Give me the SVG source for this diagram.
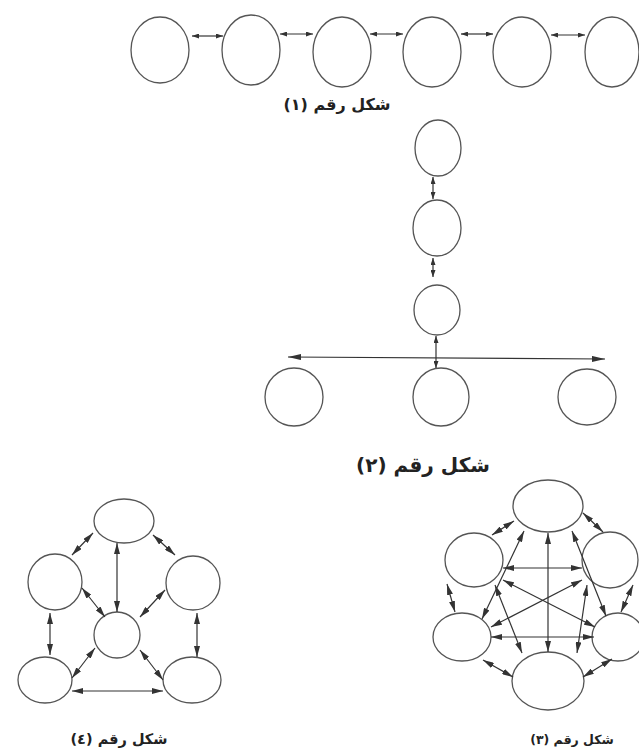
<svg xmlns="http://www.w3.org/2000/svg" width="639" height="751" viewBox="0 0 639 751">
<style>
.n{fill:none;stroke:#555;stroke-width:1.3}
.e{stroke:#333;stroke-width:1.2;fill:none}
.s{marker-start:url(#hs);marker-end:url(#hs)}
.m{marker-start:url(#hm);marker-end:url(#hm)}
.l{marker-start:url(#hl);marker-end:url(#hl)}
.t{font-family:"DejaVu Sans",sans-serif;font-weight:bold;fill:#222;text-anchor:middle}
</style>
<defs>
<marker id="hs" markerUnits="userSpaceOnUse" markerWidth="7" markerHeight="5" refX="7" refY="2.5" orient="auto-start-reverse"><path d="M0,0 L7,2.5 L0,5 z" fill="#333"/></marker>
<marker id="hm" markerUnits="userSpaceOnUse" markerWidth="11" markerHeight="6" refX="11" refY="3" orient="auto-start-reverse"><path d="M0,0 L11,3 L0,6 z" fill="#333"/></marker>
<marker id="hl" markerUnits="userSpaceOnUse" markerWidth="13" markerHeight="6" refX="13" refY="3" orient="auto-start-reverse"><path d="M0,0 L13,3 L0,6 z" fill="#333"/></marker>
</defs>
<rect width="639" height="751" fill="#fff"/>

<g id="fig1">
<g id="f1n1"><ellipse class="n" cx="160" cy="50" rx="29" ry="33"/></g>
<g id="f1n2"><ellipse class="n" cx="251" cy="50" rx="29" ry="35"/></g>
<g id="f1n3"><ellipse class="n" cx="342" cy="52" rx="29" ry="35"/></g>
<g id="f1n4"><ellipse class="n" cx="432" cy="52" rx="29" ry="35"/></g>
<g id="f1n5"><ellipse class="n" cx="522" cy="52" rx="29" ry="35"/></g>
<g id="f1n6"><ellipse class="n" cx="612" cy="52" rx="27" ry="35"/></g>
<g id="f1edges">
<line class="e s" x1="192" y1="36" x2="223" y2="36"/>
<line class="e s" x1="280" y1="34" x2="313" y2="34"/>
<line class="e s" x1="370" y1="34" x2="403" y2="34"/>
<line class="e s" x1="461" y1="34" x2="493" y2="34"/>
<line class="e s" x1="551" y1="35" x2="585" y2="35"/>
</g>
<text class="t" x="337" y="110" font-size="16" direction="rtl">شكل رقم (١)</text>
</g>

<g id="fig2">
<g id="f2n1"><ellipse class="n" cx="438" cy="148" rx="23" ry="28"/></g>
<g id="f2n2"><ellipse class="n" cx="437" cy="228" rx="24" ry="28"/></g>
<g id="f2n3"><ellipse class="n" cx="437" cy="310" rx="23" ry="25"/></g>
<g id="f2n4"><ellipse class="n" cx="294" cy="397" rx="29" ry="29"/></g>
<g id="f2n5"><ellipse class="n" cx="441" cy="397" rx="28" ry="29"/></g>
<g id="f2n6"><ellipse class="n" cx="587" cy="397" rx="29" ry="28"/></g>
<g id="f2edges">
<line class="e s" x1="433" y1="177" x2="433" y2="199"/>
<line class="e s" x1="433" y1="258" x2="433" y2="277"/>
<line class="e s" x1="436" y1="336" x2="436" y2="368"/>
<line class="e l" x1="288" y1="357" x2="605" y2="359"/>
</g>
<text class="t" x="423" y="472" font-size="20" direction="rtl">شكل رقم (٢)</text>
</g>

<g id="fig3">
<g id="f3T"><ellipse class="n" cx="548" cy="506" rx="35" ry="26"/></g>
<g id="f3UL"><ellipse class="n" cx="474" cy="560" rx="29" ry="27"/></g>
<g id="f3UR"><ellipse class="n" cx="610" cy="560" rx="28" ry="28"/></g>
<g id="f3LL"><ellipse class="n" cx="462" cy="637" rx="29" ry="24"/></g>
<g id="f3LR"><ellipse class="n" cx="618" cy="637" rx="26" ry="24"/></g>
<g id="f3B"><ellipse class="n" cx="548" cy="681" rx="36" ry="29"/></g>
<g id="f3edges">
<line class="e m" x1="514" y1="521" x2="492" y2="535"/>
<line class="e m" x1="583" y1="513" x2="603" y2="532"/>
<line class="e m" x1="447" y1="584" x2="455" y2="612"/>
<line class="e m" x1="633" y1="585" x2="621" y2="612"/>
<line class="e m" x1="483" y1="660" x2="513" y2="677"/>
<line class="e m" x1="612" y1="659" x2="583" y2="677"/>
<line class="e m" x1="548" y1="533" x2="548" y2="652"/>
<line class="e m" x1="503" y1="568" x2="582" y2="568"/>
<line class="e m" x1="491" y1="637" x2="594" y2="637"/>
<line class="e m" x1="503" y1="580" x2="595" y2="627"/>
<line class="e m" x1="491" y1="627" x2="582" y2="580"/>
<line class="e m" x1="524" y1="531" x2="482" y2="619"/>
<line class="e m" x1="572" y1="531" x2="606" y2="616"/>
<line class="e m" x1="495" y1="585" x2="522" y2="653"/>
<line class="e m" x1="587" y1="585" x2="577" y2="653"/>
</g>
<text class="t" x="572" y="744" font-size="12.5" direction="rtl">شكل رقم (٣)</text>
</g>

<g id="fig4">
<g id="f4T"><ellipse class="n" cx="124" cy="521" rx="30" ry="22"/></g>
<g id="f4UL"><ellipse class="n" cx="55" cy="582" rx="27" ry="28"/></g>
<g id="f4UR"><ellipse class="n" cx="193" cy="583" rx="27" ry="27"/></g>
<g id="f4C"><ellipse class="n" cx="117" cy="635" rx="23" ry="23"/></g>
<g id="f4LL"><ellipse class="n" cx="45" cy="680" rx="27" ry="23"/></g>
<g id="f4LR"><ellipse class="n" cx="192" cy="680" rx="29" ry="23"/></g>
<g id="f4edges">
<line class="e m" x1="93" y1="533" x2="72" y2="555"/>
<line class="e m" x1="153" y1="535" x2="175" y2="555"/>
<line class="e m" x1="117" y1="543" x2="117" y2="612"/>
<line class="e m" x1="82" y1="588" x2="105" y2="617"/>
<line class="e m" x1="165" y1="590" x2="140" y2="617"/>
<line class="e m" x1="50" y1="613" x2="50" y2="655"/>
<line class="e m" x1="197" y1="613" x2="197" y2="657"/>
<line class="e m" x1="95" y1="648" x2="72" y2="678"/>
<line class="e m" x1="140" y1="650" x2="163" y2="680"/>
<line class="e m" x1="72" y1="691" x2="163" y2="691"/>
</g>
<text class="t" x="119" y="744" font-size="14.5" direction="rtl">شكل رقم (٤)</text>
</g>
</svg>
